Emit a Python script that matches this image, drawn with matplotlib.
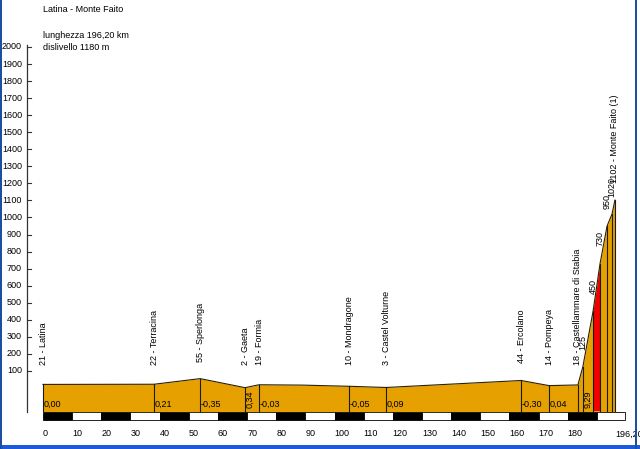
import matplotlib.pyplot as plt
from matplotlib.patches import Rectangle

# stations: km, elevation (m), label
km = [0, 38.1, 53.9, 69.3, 74.1, 105.0, 117.7, 164.0, 173.6, 183.5,
      185.2, 188.7, 191.1, 193.5, 195.2, 196.2]
elev = [21, 22, 55, 2, 19, 10, 3, 44, 14, 18,
        125, 450, 730, 950, 1020, 1102]
names = ["21 - Latina", "22 - Terracina", "55 - Sperlonga", "2 - Gaeta",
         "19 - Formia", "10 - Mondragone", "3 - Castel Volturne",
         "44 - Ercolano", "14 - Pompeya", "18 - Castellammare di Stabia",
         "125", "450", "730", "950", "1020", "1102 - Monte Faito (1)"]

# profile line (stations plus one bend)
prof_km = [0, 38.1, 53.9, 69.3, 74.1, 89.0, 105.0, 117.7, 164.0, 173.6,
           183.5, 185.2, 188.7, 191.1, 193.5, 195.2, 196.2]
prof_elev = [21, 22, 55, 2, 19, 17, 10, 3, 44, 14,
             18, 125, 450, 730, 950, 1020, 1102]

# gradient (%) written at the foot of each segment
slopes = ["0,00", "0,21", "-0,35", "0,34", "-0,03", "-0,05", "0,09",
          "-0,30", "0,04", "", "9,29", "", "", "", ""]
steep_from, steep_to = 188.7, 191.1

xticks = [0, 10, 20, 30, 40, 50, 60, 70, 80, 90, 100, 110, 120, 130,
          140, 150, 160, 170, 180]
yticks = list(range(100, 2001, 100))

title = "Latina - Monte Faito"
info1 = "lunghezza 196,20 km"
info2 = "dislivello 1180 m"

orange = "#E6A000"
red = "#F00000"
font = "Liberation Sans"

# pixel -> data helpers (x: km, y: metres)
def pxk(x):
    return (x - 43) / 2.915

def pym(y):
    return (388 - y) / 0.1705

fig = plt.figure(figsize=(6.4, 4.49), dpi=100)
ax = fig.add_axes([0, 0, 1, 1])
ax.set_xlim(pxk(0), pxk(640))
ax.set_ylim(pym(449), pym(0))
ax.axis("off")

base = pym(410.5)

# profile fill
ax.fill_between(prof_km, prof_elev, base, color=orange, lw=0)
sk = [k for k in prof_km if steep_from <= k <= steep_to]
se = [e for k, e in zip(prof_km, prof_elev) if steep_from <= k <= steep_to]
ax.fill_between(sk, se, base, color=red, lw=0)
ax.plot(prof_km, prof_elev, color="#2a2000", lw=0.8)
ax.plot([0, km[-1]], [base, base], color=orange, lw=0.8)

# vertical station lines
for k, e in zip(km, elev):
    ax.plot([k, k], [base, e], color="#1a1a1a", lw=0.8)

# station labels
for k, e, n in zip(km, elev, names):
    y = max(137, e + 100)
    ax.text(k, y, n, rotation=90, ha="center", va="bottom",
            fontsize=6.5, family=font)

# gradient labels
for i, s in enumerate(slopes):
    if not s:
        continue
    k0, k1 = km[i], km[i + 1]
    if k1 - k0 < 8:
        ax.text(k0 + 0.3, pym(408), s, rotation=90, ha="left", va="bottom",
                fontsize=6.5, family=font)
    else:
        ax.text(k0 + 0.2, pym(404.5), s, ha="left", va="center",
                fontsize=6.5, family=font)

# distance scale bar
bar_top, bar_bot = pym(411.5), pym(419.5)
edges = list(range(0, 200, 10)) + [199.5]
for i in range(len(edges) - 1):
    c = "black" if i % 2 == 0 else "white"
    ax.add_patch(Rectangle((edges[i], bar_bot), edges[i + 1] - edges[i],
                           bar_top - bar_bot, facecolor=c, edgecolor="black",
                           lw=0.6))

for t in xticks:
    ax.text(t, pym(434), str(t), ha="left", va="center",
            fontsize=6.5, family=font)
ax.text(196.2, pym(434), "196,20", ha="left", va="center",
        fontsize=6.5, family=font)

# y axis
ax.plot([pxk(27), pxk(27)], [pym(45), pym(412)], color="#333333", lw=0.9)
for t in yticks:
    ax.plot([pxk(27), pxk(31)], [t, t], color="#333333", lw=0.8)
    ax.text(pxk(22), t, str(t), ha="right", va="center",
            fontsize=6.5, family=font)

# header
fig.text(43 / 640, 1 - 10 / 449, title, ha="left", va="center",
         fontsize=6.5, family=font)
fig.text(43 / 640, 1 - 35 / 449, info1, ha="left", va="center",
         fontsize=6.5, family=font)
fig.text(43 / 640, 1 - 48 / 449, info2, ha="left", va="center",
         fontsize=6.5, family=font)

# window frame
fig.patches.append(Rectangle((0, 0), 1, 4 / 449, transform=fig.transFigure,
                             facecolor="#1c5ad8", edgecolor="none"))
fig.patches.append(Rectangle((0, 0), 2 / 640, 1, transform=fig.transFigure,
                             facecolor="#1c4fa0", edgecolor="none"))
fig.patches.append(Rectangle((635 / 640, 0), 2 / 640, 1,
                             transform=fig.transFigure,
                             facecolor="#1c4fa0", edgecolor="none"))

fig.savefig("out.png", dpi=100)
